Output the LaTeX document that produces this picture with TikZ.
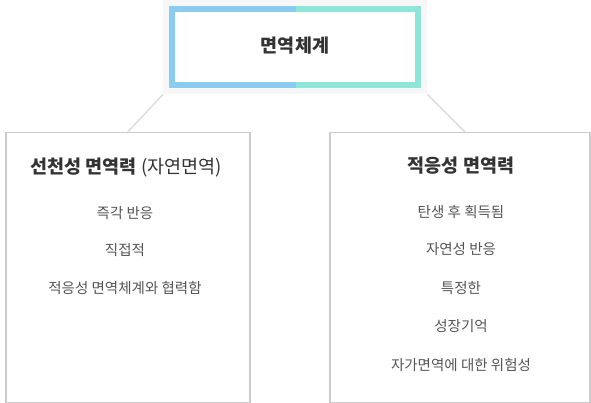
\documentclass[tikz,border=0pt]{standalone}
\usepackage{fontspec}
\setmainfont{Noto Sans CJK KR}
\definecolor{bluefr}{HTML}{8CCBF0}
\definecolor{tealfr}{HTML}{8EE6D8}
\definecolor{bgtop}{HTML}{F7F7F7}
\definecolor{boxline}{HTML}{CCCCCC}
\definecolor{conline}{HTML}{DDDDDD}
\definecolor{titlec}{HTML}{333333}
\definecolor{itemc}{HTML}{555555}
\begin{document}
\begin{tikzpicture}[x=1pt,y=-1pt,
  panel/.style={draw=boxline,line width=1.5pt,fill=white,minimum width=244pt,minimum height=270pt,inner sep=0pt,anchor=north west},
  conn/.style={draw=conline,line width=1.5pt},
  ttl/.style={text=titlec,font=\fontsize{18.5}{20}\selectfont\bfseries,inner sep=0pt},
  item/.style={text=itemc,font=\fontsize{14.5}{16}\selectfont,inner sep=0pt}]
\useasboundingbox (0,0) rectangle (591,403);
\node[fill=bgtop,minimum width=264pt,minimum height=94pt,inner sep=0pt,anchor=north west] (topbg) at (163,0) {};
\node[panel] (left) at (5,132) {};
\node[panel,minimum width=260pt] (right) at (329,132) {};
\coordinate (rend) at (465,132);
\draw[conn] (topbg.south west) -- (left.north);
\draw[conn] (topbg.south east) -- (rend);
% redraw panels over connector ends
\node[panel] at (5,132) {};
\node[panel,minimum width=260pt] at (329,132) {};
% colored frame
\fill[bluefr] (169,6) rectangle (296,88);
\fill[tealfr] (296,6) rectangle (421,88);
\fill[white] (175,12) rectangle (415,82);
\node[ttl] (top) at (295,46) {면역체계};
% left panel
\node[ttl] (lt) at (126,168) {선천성 면역력 {\mdseries (자연면역)}};
\node[item] (l1) at (125,213) {즉각 반응};
\node[item] (l2) at (125,250) {직접적};
\node[item] (l3) at (125,288) {적응성 면역체계와 협력함};
% right panel
\node[ttl] (rt) at (461,166) {적응성 면역력};
\node[item] (r1) at (461,212) {탄생 후 획득됨};
\node[item] (r2) at (461,249) {자연성 반응};
\node[item] (r3) at (461,288) {특정한};
\node[item] (r4) at (461,326) {성장기억};
\node[item] (r5) at (461,365) {자가면역에 대한 위험성};
\end{tikzpicture}
\end{document}
